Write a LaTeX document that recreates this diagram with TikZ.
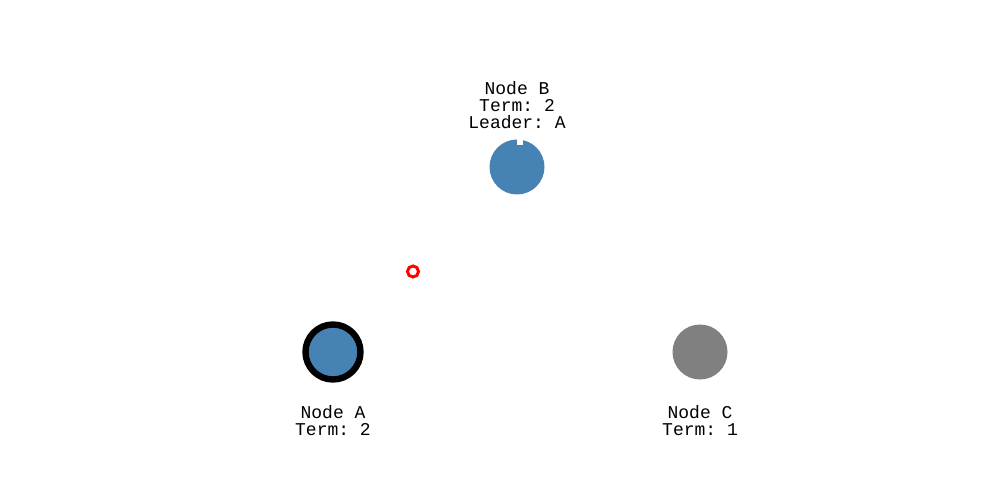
\documentclass[tikz,border=0pt]{standalone}
\usepackage{fontspec}
\setmonofont{Liberation Mono}
\usetikzlibrary{positioning}
\definecolor{steel}{HTML}{4682B4}
\definecolor{idle}{HTML}{808080}
\tikzset{
  every path/.style={
    line width=0pt
  },
  server/.style={
    circle,
    minimum size=41.25pt,
    inner sep=0pt
  },
  caption/.style={
    font=\ttfamily\fontsize{13.5pt}{12.75pt}\selectfont,
    align=center,
    inner sep=0pt
  }
}

\begin{document}
\begin{tikzpicture}[x=0.75pt,y=-0.75pt]
    % 背景
    \useasboundingbox (0,0) rectangle (1005,488);
    \fill[white] (0,0) rectangle (1005,488);

    % ノード B
    \node[server,fill=steel] (nodeB) at (517,167) {};
    \fill[white] (516.5,138) rectangle (523,145.5);
    \node[caption] (labelB) at (517,105) {Node B\\Term: 2\\Leader: A};

    % ノード A (リーダー)
    \node[server,fill=steel,draw=black,line width=4.8pt] (nodeA) at (333,352) {};
    \node[caption] (labelA) at (333,420.5) {Node A\\Term: 2};

    % ノード C
    \node[server,fill=idle] (nodeC) at (700,352) {};
    \node[caption] (labelC) at (700,420.5) {Node C\\Term: 1};

    % メッセージ
    \node[circle,draw=red,line width=2.2pt,minimum size=8.3pt,inner sep=0pt] (msg) at (413,271.5) {};
\end{tikzpicture}
\end{document}
